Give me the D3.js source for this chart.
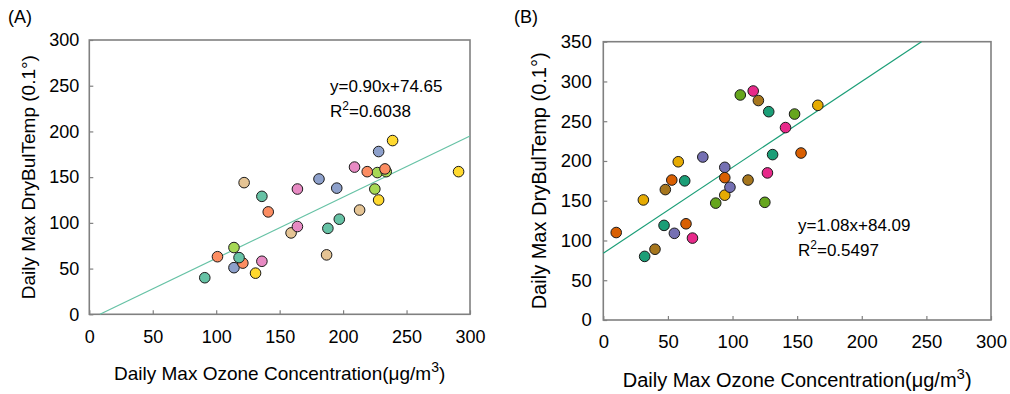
<!DOCTYPE html>
<html>
<head>
<meta charset="utf-8">
<script src="https://cdn.jsdelivr.net/npm/d3@7"></script>
<style>
  body { margin: 0; background: #fff; }
  svg { display: block; font-family: "Liberation Sans", Arial, sans-serif; }
</style>
</head>
<body>
<svg id="chart" width="1010" height="394"></svg>
<script>
// group index: 0 teal, 1 orange, 2 blue/purple, 3 pink, 4 green, 5 yellow, 6 tan/brown
const xTicks = [0, 50, 100, 150, 200, 250, 300];
const yTicksA = [0, 50, 100, 150, 200, 250, 300];
const yTicksB = [0, 50, 100, 150, 200, 250, 300, 350];

// panel A (listed in drawing order)
const groupA = [6, 6, 6, 6, 2, 2, 2, 2, 4, 4, 4, 4, 1, 1, 1, 1, 1, 0, 0, 0, 0, 0, 3, 3, 3, 3, 5, 5, 5, 5];
const ozoneA = [122, 159, 187, 213, 114, 181, 195, 228, 114, 227, 234, 225, 101, 121, 141, 219, 233, 91, 118, 136, 188, 197, 136, 164, 164, 209, 131, 228, 239, 291];
const tempA = [144, 89, 65, 114, 51, 148, 138, 178, 73, 155, 156, 137, 63, 56, 112, 156, 159, 40, 62, 129, 94, 104, 58, 96, 137, 161, 45, 125, 190, 156];
const trendA = { x: [8.4, 300], y: [0, 195] };
const labelA = ["y=0.90x+74.65", "0.6038"];

// panel B (listed in drawing order)
const groupB = [6, 6, 6, 6, 5, 5, 5, 5, 2, 2, 2, 2, 1, 1, 1, 1, 1, 0, 0, 0, 0, 0, 4, 4, 4, 4, 3, 3, 3, 3];
const ozoneB = [40, 48, 112, 120, 31, 58, 94, 166, 55, 77, 94, 98, 10, 53, 64, 94, 153, 32, 47, 63, 128, 131, 87, 106, 125, 148, 69, 116, 127, 141];
const tempB = [89, 164, 176, 276, 151, 199, 157, 270, 109, 205, 192, 167, 110, 176, 121, 179, 210, 80, 119, 175, 262, 208, 147, 283, 148, 259, 103, 288, 185, 242];
const fitB = { slope: 1.08, intercept: 84.09 };
const labelB = ["y=1.08x+84.09", "0.5497"];

const svg = d3.select("#chart");

function drawPanel(opt) {
    const x = d3.scaleLinear().domain([0, 300]).range([opt.left, opt.right]);
    const y = d3.scaleLinear().domain([0, opt.yMax]).range([opt.bottom, opt.top]);
    const g = svg.append("g");

    const xAxis = g.append("g")
        .attr("transform", `translate(0,${opt.bottom})`)
        .call(d3.axisBottom(x).tickValues(xTicks).tickSizeInner(-4).tickSizeOuter(0).tickPadding(opt.xPad));
    const yAxis = g.append("g")
        .attr("transform", `translate(${opt.left},0)`)
        .call(d3.axisLeft(y).tickValues(opt.yTicks).tickSizeInner(-4).tickSizeOuter(0).tickPadding(opt.yPad));
    for (const ax of [xAxis, yAxis]) {
        ax.select(".domain").remove();
        ax.selectAll("line").attr("stroke", "#808080").attr("stroke-width", 1.2);
        ax.selectAll("text").attr("fill", "#000").style("font-size", opt.tickSize + "px")
            .style("font-family", "'Liberation Sans', Arial, sans-serif");
    }

    g.append("rect")
        .attr("x", opt.left).attr("y", opt.top)
        .attr("width", opt.right - opt.left).attr("height", opt.bottom - opt.top)
        .attr("fill", "none").attr("stroke", "#808080").attr("stroke-width", 1.6);

    g.append("line")
        .attr("x1", x(opt.trend.x[0])).attr("y1", y(opt.trend.y[0]))
        .attr("x2", x(opt.trend.x[1])).attr("y2", y(opt.trend.y[1]))
        .attr("stroke", opt.lineColor).attr("stroke-width", 1.2);

    g.selectAll("circle")
        .data(opt.ozone.map((v, i) => ({ o: v, t: opt.temp[i], g: opt.group[i] })))
        .join("circle")
        .attr("cx", d => x(d.o))
        .attr("cy", d => y(d.t))
        .attr("r", 5.3)
        .attr("fill", d => opt.scheme[d.g])
        .attr("stroke", "#1a1a1a")
        .attr("stroke-width", 1);

    // equation
    g.append("text")
        .attr("x", opt.eqX).attr("y", opt.eqY)
        .style("font-size", "17px")
        .text(opt.label[0]);
    const r2 = g.append("text")
        .attr("x", opt.eqX).attr("y", opt.eqY + 25)
        .style("font-size", "17px");
    r2.append("tspan").text("R");
    r2.append("tspan").attr("dy", -7).style("font-size", "12px").text("2");
    r2.append("tspan").attr("dy", 7).text("=" + opt.label[1]);

    // axis titles
    const xt = g.append("text")
        .attr("x", (opt.left + opt.right) / 2).attr("y", opt.xTitleY)
        .attr("text-anchor", "middle")
        .style("font-size", opt.titleSize + "px");
    xt.append("tspan").text("Daily Max Ozone Concentration(\u03bcg/m");
    xt.append("tspan").attr("dy", -8).style("font-size", (opt.titleSize - 5) + "px").text("3");
    xt.append("tspan").attr("dy", 8).text(")");

    g.append("text")
        .attr("transform", `translate(${opt.yTitleX},${(opt.top + opt.bottom) / 2}) rotate(-90)`)
        .attr("text-anchor", "middle")
        .style("font-size", opt.titleSize + "px")
        .text("Daily Max DryBulTemp (0.1\u00b0)");

    g.append("text")
        .attr("x", opt.tagX).attr("y", 23)
        .style("font-size", "18px")
        .text(opt.tag);
}

drawPanel({
    left: 89.3, right: 470, top: 40, bottom: 314.3, yMax: 300, yTicks: yTicksA,
    xPad: 16, yPad: 10, tickSize: 18, titleSize: 19,
    ozone: ozoneA, temp: tempA, group: groupA, scheme: d3.schemeSet2,
    trend: trendA, lineColor: "#66c2a5",
    label: labelA, eqX: 330, eqY: 92,
    xTitleY: 380, yTitleX: 35, tag: "(A)", tagX: 8
});

const xEndB = (350 - fitB.intercept) / fitB.slope;
drawPanel({
    left: 603.3, right: 991, top: 41.7, bottom: 320, yMax: 350, yTicks: yTicksB,
    xPad: 15, yPad: 11.6, tickSize: 18.5, titleSize: 20,
    ozone: ozoneB, temp: tempB, group: groupB, scheme: d3.schemeDark2,
    trend: { x: [0, xEndB], y: [fitB.intercept, 350] }, lineColor: "#1b9e77",
    label: labelB, eqX: 798, eqY: 231,
    xTitleY: 387, yTitleX: 546, tag: "(B)", tagX: 514
});
</script>
</body>
</html>
